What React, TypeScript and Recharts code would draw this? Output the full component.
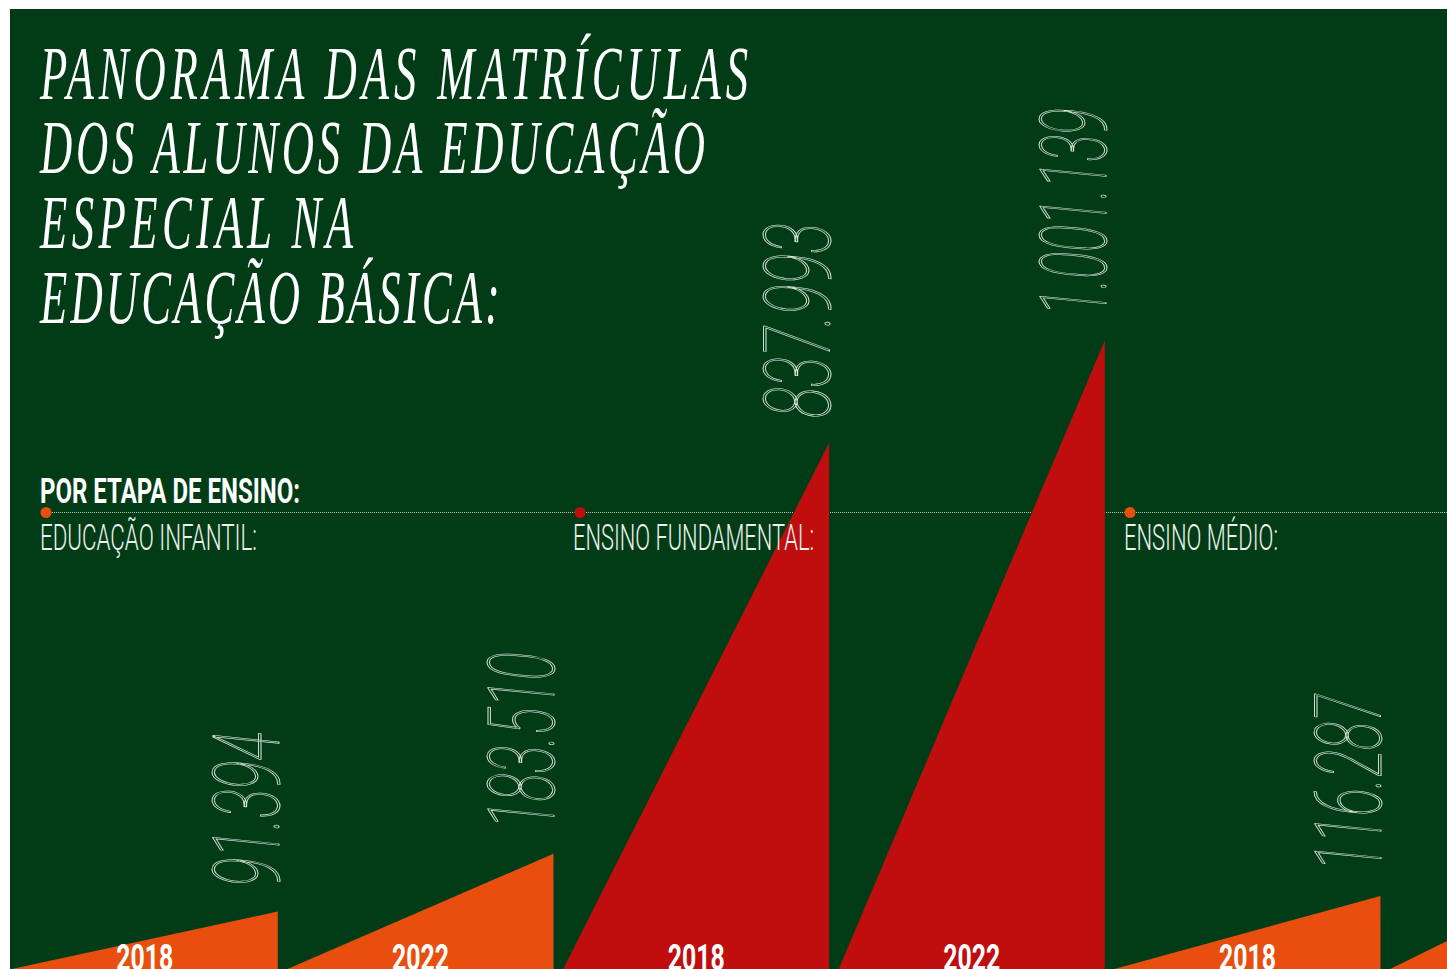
import React from 'react'
import { BarChart, Bar, XAxis, YAxis, Cell } from 'recharts'

// matrículas da educação especial por etapa de ensino
const stageNames = ['EDUCAÇÃO INFANTIL:', 'ENSINO FUNDAMENTAL:', 'ENSINO MÉDIO:']
const stageKeys = ['infantil', 'fundamental', 'medio']
const years = ['2018', '2022']
const infantil = [91394, 183510]
const fundamental = [837993, 1001139]
const medio = [116287, 208000]
const stageColors = ['#e84f0e', '#c00e0f', '#e84f0e']

const titleLines = [
  'PANORAMA DAS MATRÍCULAS',
  'DOS ALUNOS DA EDUCAÇÃO',
  'ESPECIAL NA',
  'EDUCAÇÃO BÁSICA:',
]
const subtitle = 'POR ETAPA DE ENSINO:'

const BG = '#013c17'
const W = 1437
const H = 960

const series = [infantil, fundamental, medio]
const data = stageKeys.flatMap((key, i) =>
  years.map((year, j) => ({
    id: `${key}-${year}`,
    year,
    value: series[i][j],
    color: stageColors[i],
  }))
)

const fmt = (v: number) => String(v).replace(/\B(?=(\d{3})+(?!\d))/g, '.')

// condensed look: squeeze text to the width it takes in the original
const numLength = (s: string) =>
  s.split('').reduce((acc, c) => acc + (c === '1' ? 22 : c === '.' ? 8.5 : 31), 0)

const Triangle = (props: any) => {
  const { x, y, width, height, fill, value } = props
  const v = Array.isArray(value) ? value[1] : value
  const label = fmt(v)
  const px = x + width + 1
  const py = y - 25
  return (
    <g>
      <path d={`M${x},${y + height} L${x + width},${y} L${x + width},${y + height} Z`} fill={fill} />
      <text
        x={px}
        y={py}
        transform={`rotate(-90 ${px} ${py})`}
        textLength={numLength(label)}
        lengthAdjust="spacingAndGlyphs"
        fontFamily="Roboto, 'Liberation Sans', sans-serif"
        fontStyle="italic"
        fontWeight={100}
        fontSize={93}
        fill="none"
        stroke="#e3ebe3"
        strokeWidth={0.9}
      >
        {label}
      </text>
    </g>
  )
}

const YearTick = (props: any) => {
  const { x, y, index } = props
  const year = data[index]?.year ?? ''
  return (
    <text
      x={x}
      y={y + 1}
      textAnchor="middle"
      textLength={57}
      lengthAdjust="spacingAndGlyphs"
      fontFamily="Roboto, 'Liberation Sans', sans-serif"
      fontWeight={700}
      fontSize={37}
      fill="#ffffff"
    >
      {year}
    </text>
  )
}

const titleWidths = [708, 665, 313, 460]
const titleBaselines = [90, 164, 239, 314]
const titleSqueeze = 0.58
const stageLabelX = [30, 563, 1114]
const stageLabelWidths = [217, 241, 154]
const dotX = [36, 570, 1120]

export default function App() {
  return (
    <div
      style={{
        position: 'absolute',
        left: 10,
        top: 9,
        width: W,
        height: H,
        background: BG,
        overflow: 'hidden',
      }}
    >
      {/* guide line behind the triangles */}
      <svg width={W} height={H} style={{ position: 'absolute', left: 0, top: 0 }}>
        <line x1={dotX[0]} x2={W} y1={503.5} y2={503.5} stroke="#b9c6b9" strokeWidth={1} strokeDasharray="1 1" />
        {dotX.map((cx, i) => (
          <circle key={i} cx={cx} cy={503.5} r={5.5} fill={stageColors[i]} />
        ))}
      </svg>

      <div style={{ position: 'absolute', left: -3, top: 0 }}>
        <BarChart
          width={1654}
          height={990}
          data={data}
          margin={{ top: 0, right: 0, left: 0, bottom: 0 }}
          barCategoryGap={4.8}
        >
          <YAxis hide domain={[0, 1529000]} />
          <XAxis
            dataKey="id"
            height={30}
            axisLine={false}
            tickLine={false}
            tickSize={0}
            tickMargin={0}
            interval={0}
            tick={<YearTick />}
          />
          <Bar dataKey="value" isAnimationActive={false} shape={<Triangle />}>
            {data.map((d) => (
              <Cell key={d.id} fill={d.color} />
            ))}
          </Bar>
        </BarChart>
      </div>

      {/* texts on top */}
      <svg width={W} height={H} style={{ position: 'absolute', left: 0, top: 0, pointerEvents: 'none' }}>
        {titleLines.map((line, i) => (
          <g key={i} transform={`translate(30 ${titleBaselines[i]}) scale(${titleSqueeze} 1)`}>
            <text
              x={0}
              y={0}
              textLength={titleWidths[i] / titleSqueeze}
              lengthAdjust="spacing"
              fontFamily="'Liberation Serif', serif"
              fontStyle="italic"
              fontSize={77}
              fill="#ffffff"
            >
              {line}
            </text>
          </g>
        ))}
        <text
          x={30}
          y={494}
          textLength={260}
          lengthAdjust="spacingAndGlyphs"
          fontFamily="Roboto, 'Liberation Sans', sans-serif"
          fontWeight={700}
          fontSize={35}
          fill="#ffffff"
        >
          {subtitle}
        </text>
        {stageNames.map((name, i) => (
          <text
            key={name}
            x={stageLabelX[i]}
            y={541}
            textLength={stageLabelWidths[i]}
            lengthAdjust="spacingAndGlyphs"
            fontFamily="Roboto, 'Liberation Sans', sans-serif"
            fontWeight={300}
            fontSize={36}
            fill="#eef3ee"
          >
            {name}
          </text>
        ))}
      </svg>
    </div>
  )
}
